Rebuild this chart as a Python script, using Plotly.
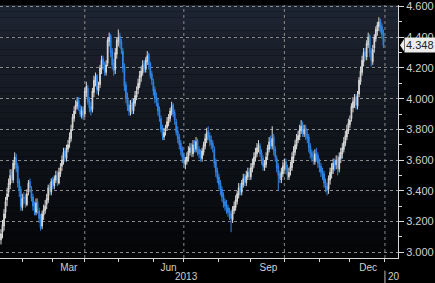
import pandas as pd
import plotly.graph_objects as go

# ---- data (daily OHLC) ----
opens = [
    3.08, 3.13, 3.17, 3.26, 3.34,   3.39, 3.44, 3.52, 3.47, 3.57,   3.61, 3.56, 3.46, 3.41, 3.29,
    3.36, 3.36, 3.31, 3.39, 3.46,   3.41, 3.36, 3.31, 3.26, 3.33,   3.27, 3.23, 3.17, 3.24, 3.27,
    3.31, 3.34, 3.43, 3.39, 3.47,   3.43, 3.47, 3.51, 3.45, 3.51,   3.56, 3.59, 3.66, 3.61, 3.67,
    3.71, 3.74, 3.81, 3.87, 3.93,   3.95, 3.99, 3.93, 3.89, 3.93,   3.90, 4.04, 4.07, 3.99, 3.95,
    3.93, 4.04, 4.11, 4.15, 4.05,   4.09, 4.19, 4.26, 4.21, 4.17,   4.23, 4.37, 4.41, 4.31, 4.23,
    4.19, 4.29, 4.37, 4.41, 4.37,   4.31, 4.21, 4.09, 4.01, 3.96,   3.91, 3.97, 3.92, 3.97, 4.01,
    4.06, 4.09, 4.14, 4.17, 4.23,   4.19, 4.24, 4.29, 4.23, 4.16,   4.11, 4.06, 4.01, 3.97, 3.93,
    3.87, 3.81, 3.75, 3.79, 3.81,   3.84, 3.87, 3.91, 3.96, 3.91,   3.85, 3.79, 3.75, 3.71, 3.67,
    3.63, 3.57, 3.59, 3.61, 3.65,   3.69, 3.64, 3.71, 3.67, 3.73,   3.67, 3.65, 3.61, 3.65, 3.69,
    3.73, 3.79, 3.76, 3.73, 3.71,   3.67, 3.59, 3.53, 3.49, 3.45,   3.41, 3.37, 3.33, 3.31, 3.29,
    3.27, 3.25, 3.21, 3.27, 3.29,   3.33, 3.37, 3.43, 3.39, 3.44,   3.49, 3.45, 3.49, 3.53, 3.49,
    3.54, 3.57, 3.61, 3.64, 3.67,   3.69, 3.65, 3.61, 3.55, 3.57,   3.63, 3.67, 3.73, 3.69, 3.75,
    3.67, 3.61, 3.56, 3.51, 3.47,   3.51, 3.55, 3.59, 3.55, 3.49,   3.53, 3.55, 3.61, 3.65, 3.69,
    3.73, 3.75, 3.79, 3.83, 3.77,   3.81, 3.77, 3.75, 3.69, 3.65,   3.63, 3.59, 3.65, 3.63, 3.59,
    3.56, 3.53, 3.51, 3.46, 3.43,   3.41, 3.47, 3.51, 3.54, 3.59,   3.57, 3.61, 3.54, 3.61, 3.64,
    3.67, 3.71, 3.75, 3.79, 3.83,   3.87, 3.94, 3.97, 4.01, 3.95,   4.03, 4.11, 4.17, 4.24, 4.31,
    4.27, 4.35, 4.41, 4.31, 4.24,   4.33, 4.39, 4.44, 4.47, 4.51,   4.47, 4.43,
]
highs = [
    3.15, 3.21, 3.28, 3.36, 3.42,   3.48, 3.54, 3.54, 3.60, 3.65,   3.64, 3.58, 3.48, 3.43, 3.38,
    3.39, 3.38, 3.41, 3.47, 3.48,   3.43, 3.38, 3.33, 3.35, 3.35,   3.29, 3.25, 3.27, 3.31, 3.34,
    3.38, 3.44, 3.45, 3.48, 3.49,   3.50, 3.53, 3.53, 3.55, 3.58,   3.63, 3.68, 3.68, 3.70, 3.73,
    3.78, 3.83, 3.90, 3.95, 3.99,   4.01, 4.01, 3.96, 3.95, 3.95,   4.07, 4.11, 4.09, 4.01, 3.98,
    4.07, 4.15, 4.17, 4.16, 4.11,   4.22, 4.28, 4.28, 4.24, 4.25,   4.40, 4.43, 4.42, 4.33, 4.26,
    4.33, 4.40, 4.45, 4.43, 4.39,   4.33, 4.23, 4.11, 4.04, 3.99,   3.99, 4.00, 4.00, 4.05, 4.08,
    4.13, 4.18, 4.21, 4.25, 4.25,   4.27, 4.31, 4.30, 4.24, 4.18,   4.13, 4.08, 4.04, 4.00, 3.95,
    3.89, 3.83, 3.81, 3.83, 3.88,   3.90, 3.94, 3.98, 3.97, 3.93,   3.87, 3.82, 3.77, 3.73, 3.69,
    3.65, 3.62, 3.65, 3.69, 3.71,   3.71, 3.73, 3.73, 3.75, 3.74,   3.69, 3.67, 3.68, 3.72, 3.77,
    3.81, 3.82, 3.78, 3.76, 3.73,   3.69, 3.61, 3.55, 3.51, 3.47,   3.43, 3.39, 3.35, 3.34, 3.31,
    3.29, 3.27, 3.30, 3.33, 3.37,   3.40, 3.45, 3.45, 3.47, 3.51,   3.51, 3.53, 3.55, 3.55, 3.58,
    3.61, 3.65, 3.68, 3.71, 3.73,   3.71, 3.67, 3.63, 3.60, 3.65,   3.70, 3.75, 3.76, 3.82, 3.77,
    3.69, 3.63, 3.58, 3.53, 3.55,   3.59, 3.61, 3.61, 3.57, 3.55,   3.59, 3.65, 3.69, 3.73, 3.77,
    3.79, 3.83, 3.86, 3.85, 3.83,   3.83, 3.80, 3.77, 3.71, 3.67,   3.66, 3.67, 3.68, 3.65, 3.61,
    3.58, 3.55, 3.53, 3.48, 3.45,   3.50, 3.55, 3.58, 3.61, 3.61,   3.63, 3.63, 3.65, 3.68, 3.71,
    3.75, 3.79, 3.83, 3.87, 3.89,   3.97, 4.01, 4.03, 4.03, 4.05,   4.14, 4.21, 4.28, 4.33, 4.33,
    4.38, 4.43, 4.42, 4.33, 4.35,   4.42, 4.47, 4.50, 4.53, 4.52,   4.49, 4.45,
]
lows = [
    3.05, 3.09, 3.14, 3.22, 3.30,   3.36, 3.41, 3.45, 3.45, 3.54,   3.52, 3.42, 3.36, 3.27, 3.27,
    3.31, 3.29, 3.30, 3.37, 3.39,   3.33, 3.27, 3.24, 3.24, 3.25,   3.19, 3.14, 3.15, 3.21, 3.25,
    3.28, 3.32, 3.37, 3.37, 3.41,   3.41, 3.45, 3.43, 3.44, 3.49,   3.53, 3.57, 3.59, 3.59, 3.65,
    3.68, 3.72, 3.79, 3.85, 3.90,   3.93, 3.92, 3.88, 3.87, 3.86,   3.88, 4.01, 3.96, 3.91, 3.89,
    3.91, 4.01, 4.08, 4.03, 4.02,   4.07, 4.16, 4.19, 4.15, 4.15,   4.21, 4.34, 4.27, 4.19, 4.15,
    4.16, 4.26, 4.34, 4.33, 4.29,   4.17, 4.05, 3.97, 3.92, 3.89,   3.89, 3.90, 3.90, 3.95, 3.99,
    4.03, 4.07, 4.11, 4.15, 4.17,   4.17, 4.22, 4.19, 4.13, 4.09,   4.02, 3.97, 3.95, 3.89, 3.85,
    3.78, 3.73, 3.73, 3.76, 3.79,   3.82, 3.85, 3.89, 3.88, 3.83,   3.76, 3.71, 3.67, 3.63, 3.58,
    3.55, 3.54, 3.57, 3.59, 3.63,   3.62, 3.62, 3.65, 3.65, 3.63,   3.61, 3.59, 3.59, 3.63, 3.67,
    3.71, 3.73, 3.69, 3.67, 3.65,   3.55, 3.49, 3.45, 3.41, 3.37,   3.33, 3.29, 3.27, 3.25, 3.23,
    3.21, 3.13, 3.19, 3.25, 3.27,   3.31, 3.35, 3.37, 3.37, 3.42,   3.43, 3.43, 3.47, 3.47, 3.47,
    3.52, 3.55, 3.59, 3.62, 3.65,   3.62, 3.57, 3.53, 3.53, 3.55,   3.60, 3.65, 3.67, 3.67, 3.63,
    3.59, 3.52, 3.40, 3.45, 3.45,   3.49, 3.53, 3.51, 3.47, 3.47,   3.50, 3.53, 3.58, 3.63, 3.67,
    3.71, 3.73, 3.77, 3.75, 3.75,   3.73, 3.71, 3.65, 3.61, 3.59,   3.57, 3.57, 3.59, 3.55, 3.52,
    3.49, 3.47, 3.42, 3.39, 3.37,   3.38, 3.44, 3.48, 3.51, 3.53,   3.54, 3.50, 3.52, 3.58, 3.61,
    3.65, 3.69, 3.73, 3.77, 3.81,   3.85, 3.91, 3.94, 3.93, 3.93,   4.01, 4.09, 4.15, 4.21, 4.25,
    4.25, 4.33, 4.27, 4.21, 4.22,   4.30, 4.37, 4.41, 4.44, 4.43,   4.39, 4.33,
]
closes = [
    3.12, 3.18, 3.25, 3.33, 3.38,   3.45, 3.50, 3.48, 3.58, 3.62,   3.55, 3.45, 3.40, 3.30, 3.35,
    3.35, 3.32, 3.38, 3.45, 3.42,   3.35, 3.30, 3.27, 3.32, 3.28,   3.22, 3.16, 3.25, 3.28, 3.30,
    3.35, 3.42, 3.40, 3.46, 3.44,   3.48, 3.50, 3.46, 3.52, 3.55,   3.60, 3.65, 3.62, 3.68, 3.70,
    3.75, 3.80, 3.88, 3.92, 3.96,   3.98, 3.94, 3.90, 3.92, 3.88,   4.05, 4.08, 3.98, 3.94, 3.92,
    4.05, 4.12, 4.14, 4.06, 4.08,   4.20, 4.25, 4.22, 4.18, 4.22,   4.38, 4.40, 4.30, 4.22, 4.18,
    4.30, 4.38, 4.40, 4.36, 4.32,   4.20, 4.08, 4.00, 3.95, 3.92,   3.96, 3.93, 3.98, 4.02, 4.05,
    4.10, 4.15, 4.18, 4.22, 4.20,   4.25, 4.28, 4.22, 4.15, 4.12,   4.05, 4.00, 3.98, 3.92, 3.88,
    3.80, 3.76, 3.78, 3.80, 3.85,   3.88, 3.92, 3.95, 3.90, 3.86,   3.78, 3.74, 3.70, 3.66, 3.62,
    3.58, 3.60, 3.62, 3.66, 3.68,   3.65, 3.70, 3.68, 3.72, 3.66,   3.64, 3.62, 3.66, 3.70, 3.74,
    3.78, 3.75, 3.72, 3.70, 3.68,   3.58, 3.52, 3.48, 3.44, 3.40,   3.36, 3.32, 3.30, 3.28, 3.26,
    3.24, 3.22, 3.28, 3.30, 3.34,   3.38, 3.42, 3.40, 3.45, 3.48,   3.46, 3.50, 3.52, 3.50, 3.55,
    3.58, 3.62, 3.65, 3.68, 3.70,   3.64, 3.60, 3.56, 3.58, 3.62,   3.68, 3.72, 3.70, 3.74, 3.66,
    3.62, 3.55, 3.50, 3.48, 3.52,   3.56, 3.58, 3.54, 3.50, 3.52,   3.56, 3.62, 3.66, 3.70, 3.74,
    3.76, 3.80, 3.82, 3.78, 3.80,   3.76, 3.74, 3.68, 3.64, 3.62,   3.60, 3.64, 3.62, 3.58, 3.55,
    3.52, 3.50, 3.45, 3.42, 3.40,   3.48, 3.52, 3.55, 3.58, 3.56,   3.60, 3.55, 3.62, 3.65, 3.68,
    3.72, 3.76, 3.80, 3.84, 3.86,   3.95, 3.98, 4.00, 3.96, 4.02,   4.12, 4.18, 4.25, 4.30, 4.28,
    4.36, 4.40, 4.30, 4.25, 4.32,   4.40, 4.45, 4.48, 4.50, 4.46,   4.42, 4.348,
]
dates = pd.bdate_range("2013-01-14", "2013-12-31")
ytick_vals = [3.0, 3.2, 3.4, 3.6, 3.8, 4.0, 4.2, 4.4, 4.6]
month_labels = ["Mar", "Jun", "Sep", "Dec"]
month_label_pos = ["2013-03-15 12:00", "2013-06-17", "2013-09-16 12:00", "2013-12-17"]
quarter_lines = ["2013-04-01", "2013-07-01", "2013-10-01", "2014-01-01"]
last_value = 4.348

n = min(len(dates), len(opens), len(highs), len(lows), len(closes))

fig = go.Figure()
fig.add_trace(go.Candlestick(
    x=dates[:n], open=opens[:n], high=highs[:n], low=lows[:n], close=closes[:n],
    increasing=dict(line=dict(color="#d9d9d9", width=1), fillcolor="#d9d9d9"),
    decreasing=dict(line=dict(color="#2f86e8", width=1), fillcolor="#2f86e8"),
    whiskerwidth=0, showlegend=False, hoverinfo="skip",
))

# background gradient (dark slate at top fading to black)
shapes = []
N = 40
top = (30, 37, 50)
bot = (4, 5, 7)
for i in range(N):
    t = i / (N - 1)
    c = tuple(int(round(top[k] + (bot[k] - top[k]) * t)) for k in range(3))
    shapes.append(dict(type="rect", xref="paper", yref="paper",
                       x0=0, x1=1, y0=1 - (i + 1) / N, y1=1 - i / N,
                       fillcolor="rgb(%d,%d,%d)" % c, line=dict(width=0), layer="below"))
for q in quarter_lines:
    shapes.append(dict(type="line", xref="x", yref="paper", x0=q, x1=q, y0=0, y1=1,
                       line=dict(color="#8a8a8a", width=1, dash="dot"), layer="below"))
# year separator below axis
shapes.append(dict(type="line", xref="x", yref="paper", x0="2014-01-01", x1="2014-01-01",
                   y0=-0.05, y1=-0.11, line=dict(color="#bbbbbb", width=1)))
# last-price tag pointer
shapes.append(dict(type="path", xref="paper", yref="y", xsizemode="pixel", ysizemode="pixel",
                   xanchor=1, yanchor=last_value,
                   path="M 2 0 L 6 -6 L 6 6 Z", fillcolor="#ececec", line=dict(width=0)))

fig.update_layout(
    width=435, height=283,
    margin=dict(l=0, r=37, t=0, b=25),
    paper_bgcolor="#000000", plot_bgcolor="#000000",
    font=dict(family="Liberation Sans, Arial, sans-serif", color="#d0d0d0", size=11),
    shapes=shapes,
    xaxis=dict(
        type="date", range=["2013-01-11 08:24", "2014-01-13 13:30"],
        rangebreaks=[dict(bounds=["sat", "mon"])],
        rangeslider=dict(visible=False),
        showgrid=False, zeroline=False,
        showline=True, linecolor="#d8d8d8", linewidth=1,
        tickvals=month_label_pos, ticktext=month_labels, ticks="",
        tickfont=dict(size=10, color="#d0d0d0"),
        minor=dict(dtick="M1", tick0="2013-01-01", ticks="outside", ticklen=3,
                   tickcolor="#d8d8d8", showgrid=False),
    ),
    yaxis=dict(
        side="right", range=[2.962, 4.61],
        tickvals=ytick_vals, tickformat=".3f", ticklabeloverflow="allow",
        ticks="outside", ticklen=5, tickcolor="#d8d8d8",
        showline=True, linecolor="#d8d8d8", linewidth=1,
        showgrid=True, gridcolor="#8a8a8a", gridwidth=1, griddash="dot",
        zeroline=False,
        tickfont=dict(size=11, color="#d0d0d0"),
        minor=dict(dtick=0.1, ticks="outside", ticklen=3, tickcolor="#d8d8d8", showgrid=False),
    ),
    annotations=[
        dict(text="2013", xref="x", yref="paper", x="2013-07-03", y=0, yanchor="top",
             yshift=-11, showarrow=False, font=dict(size=10, color="#d0d0d0")),
        dict(text="20", xref="x", yref="paper", x="2014-01-02", y=0, xanchor="left",
             yanchor="top", yshift=-11, showarrow=False, font=dict(size=10, color="#d0d0d0")),
        dict(text="4.348", xref="paper", yref="y", x=1, y=last_value, xanchor="left",
             xshift=6, showarrow=False, bgcolor="#ececec", borderpad=1,
             font=dict(size=11, color="#222222")),
    ],
)

fig.write_html("out.html")
